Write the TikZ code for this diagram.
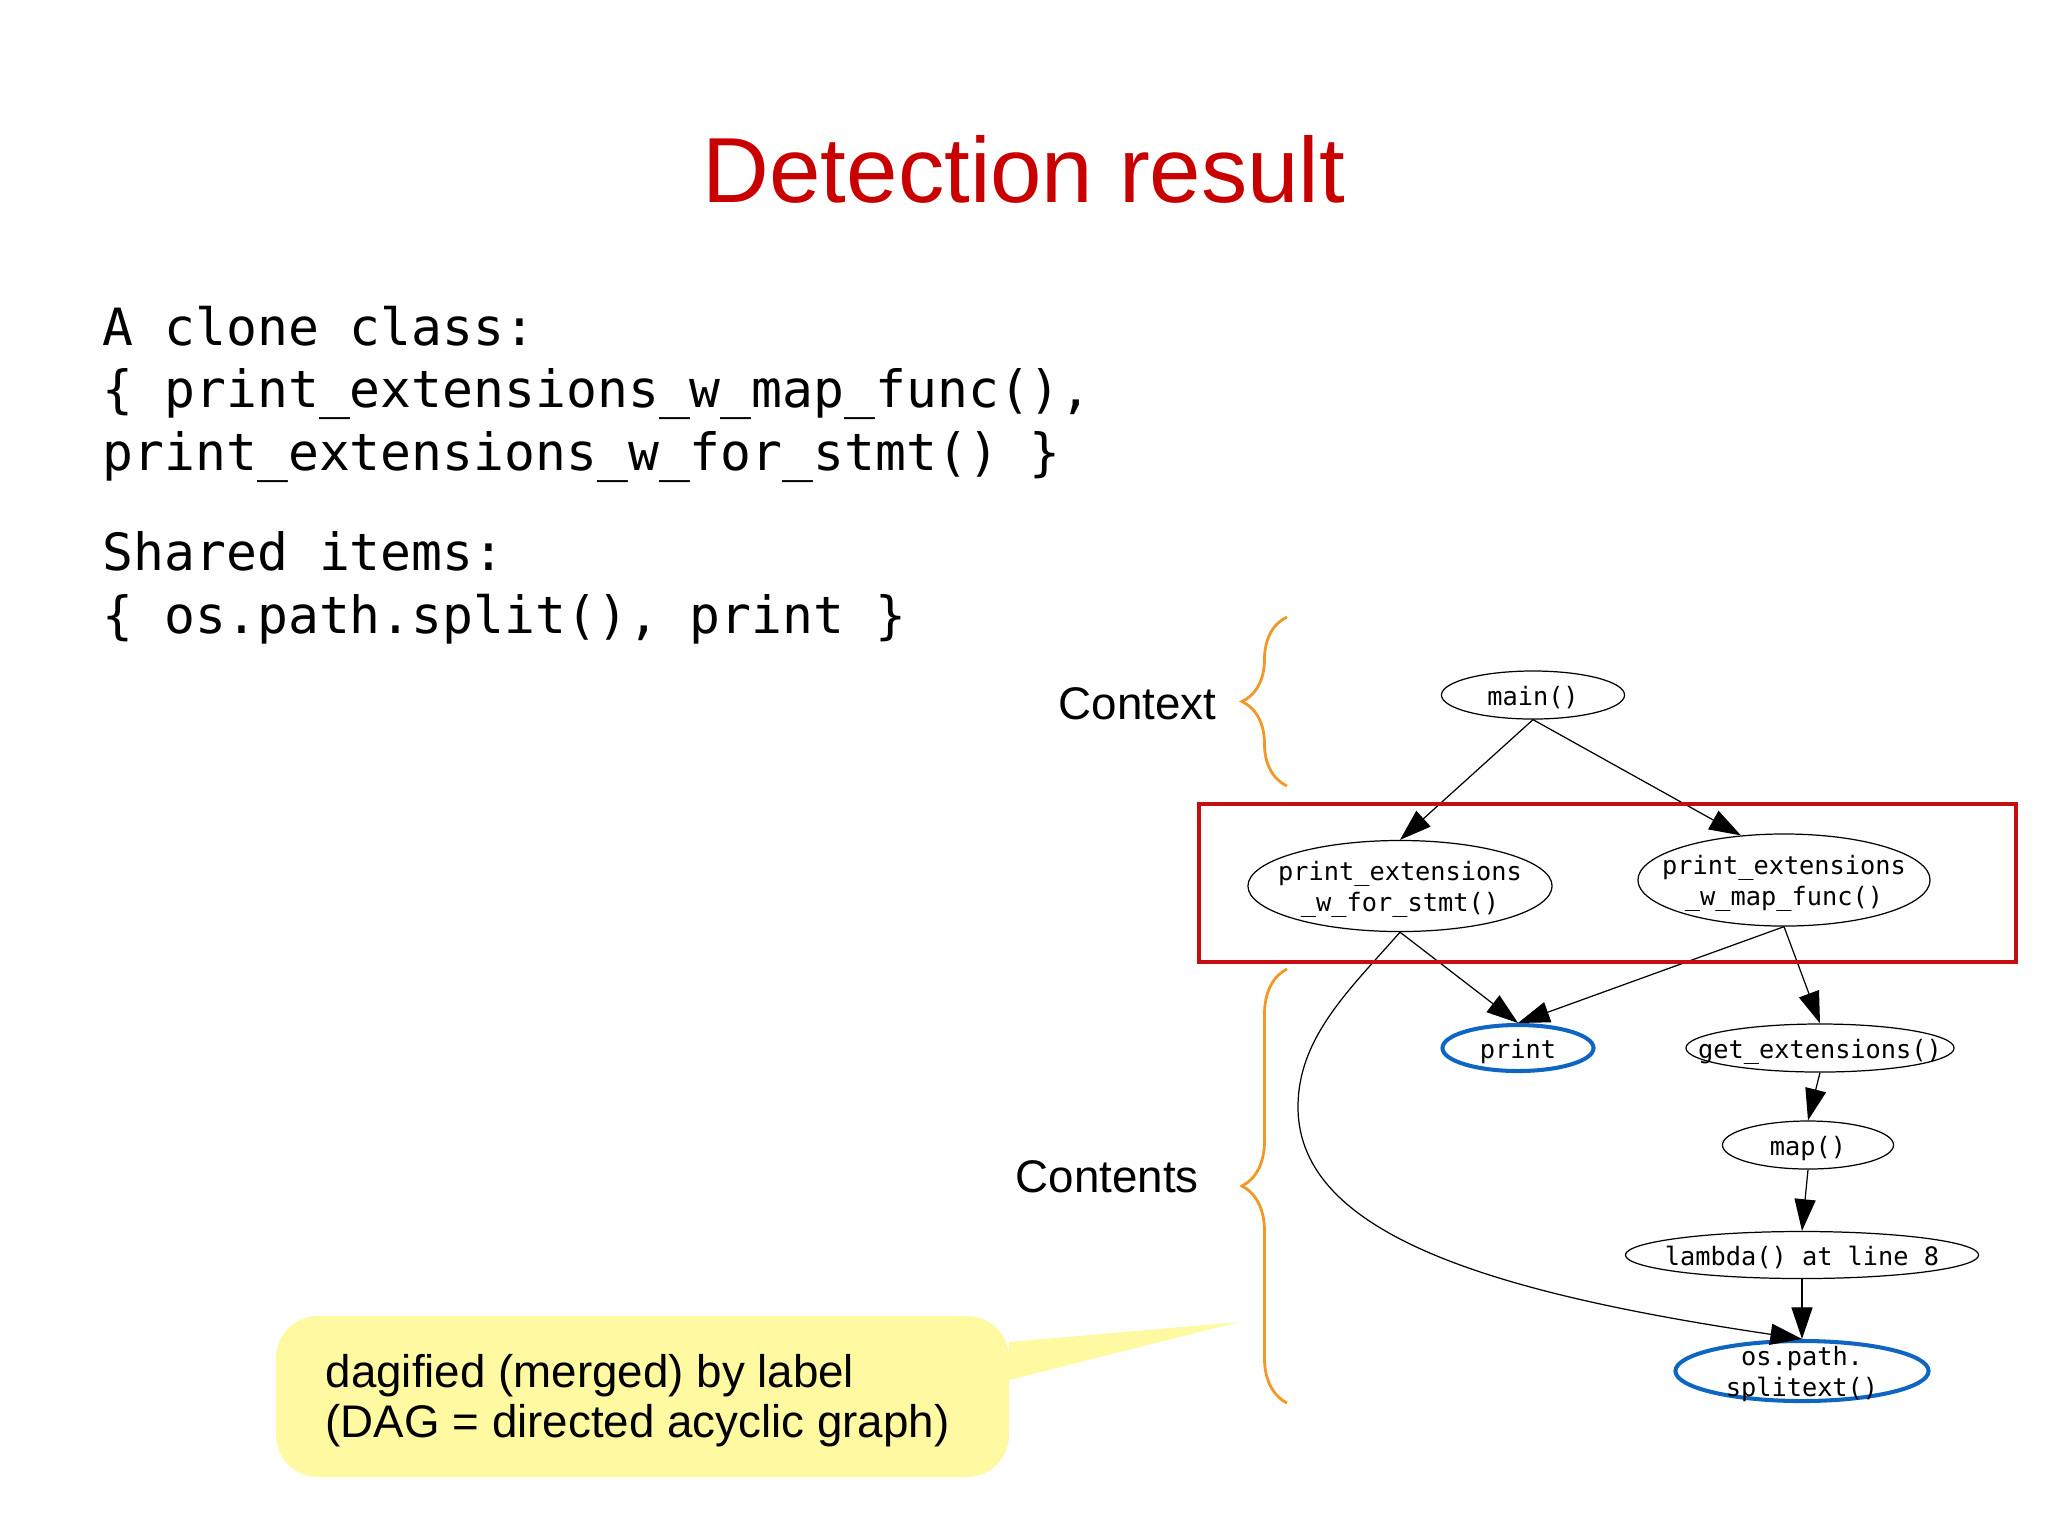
\documentclass[tikz,border=0pt]{standalone}
\usepackage{fontspec}
\setmainfont{Liberation Sans}
\newfontfamily\codefont{DejaVu Sans Mono}
\usetikzlibrary{arrows.meta}
\usetikzlibrary{shapes.geometric}
\usetikzlibrary{decorations.pathreplacing}

\definecolor{titlered}{RGB}{201,0,0}
\definecolor{boxred}{RGB}{198,14,14}
\definecolor{hitblue}{RGB}{14,102,192}
\definecolor{braceorange}{RGB}{242,152,38}
\definecolor{noteyellow}{RGB}{255,250,162}

% label of a graph node: centred, takes no room, may stick out of the ellipse
\newcommand{\fnlabel}[1]{\raisebox{-0.4em}[0pt][0pt]{\makebox[0pt]{\begin{tabular}{@{}c@{}}#1\end{tabular}}}}

\tikzset{
    headline/.style={anchor=base, inner sep=0pt, text=titlered, font=\fontsize{26.3}{31}\selectfont},
    codeline/.style={anchor=base west, inner sep=0pt, font=\codefont\fontsize{14.6}{17.5}\selectfont},
    sideline/.style={anchor=base west, inner sep=0pt, font=\fontsize{13}{15.6}\selectfont},
    fn/.style={draw, ellipse, inner sep=0pt, line width=0.35pt, font=\codefont\fontsize{7.2}{8.6}\selectfont},
    hit/.style={fn, draw=hitblue, line width=1.15pt},
    edge/.style={-{Triangle[length=9pt,width=6pt]}, line width=0.35pt},
    curly/.style={draw=braceorange, line width=0.8pt, decorate, decoration={brace, amplitude=0.45cm}},
}

\begin{document}
\begin{tikzpicture}[x=0.01cm, y=-0.01cm]
    \useasboundingbox (0,0) rectangle (2048,1535);

    \node[headline] (head) at (1024,202) {Detection result};

    \node[codeline] (cls1) at (102,345) {A clone class:};
    \node[codeline] (cls2) at (102,407) {\{ print\_extensions\_w\_map\_func(),};
    \node[codeline] (cls3) at (102,470) {print\_extensions\_w\_for\_stmt() \}};
    \node[codeline] (shr1) at (102,570) {Shared items:};
    \node[codeline] (shr2) at (102,633) {\{ os.path.split(), print \}};

    % call graph
    \node[fn, minimum width=1.83cm, minimum height=0.48cm] (main) at (1533,695) {\fnlabel{main()}};
    \node[fn, minimum width=3.04cm, minimum height=0.91cm] (forstmt) at (1400,886) {\fnlabel{print\_extensions\\\_w\_for\_stmt()}};
    \node[fn, minimum width=2.92cm, minimum height=0.92cm] (mapfunc) at (1784,880) {\fnlabel{print\_extensions\\\_w\_map\_func()}};
    \node[hit, minimum width=1.51cm, minimum height=0.46cm] (print) at (1518,1048) {\fnlabel{print}};
    \node[fn, minimum width=2.68cm, minimum height=0.48cm] (getext) at (1820,1048) {\fnlabel{get\_extensions()}};
    \node[fn, minimum width=1.71cm, minimum height=0.48cm] (map) at (1808,1145) {\fnlabel{map()}};
    \node[fn, minimum width=3.53cm, minimum height=0.47cm] (lambda) at (1802,1255) {\fnlabel{lambda() at line 8}};
    \node[hit, minimum width=2.53cm, minimum height=0.60cm] (ospath) at (1802,1371) {\fnlabel{os.path.\\splitext()}};
    \coordinate (swing) at (1298,1107);

    \draw[edge] (main.south) -- (forstmt.north);
    \draw[edge] (main.south) -- (mapfunc.134);
    \draw[edge] (forstmt.south) -- (print.north);
    \draw[edge] (mapfunc.south) -- (print.north);
    \draw[edge] (mapfunc.south) -- (getext.north);
    \draw[edge] (getext.south) -- (map.north);
    \draw[edge] (map.south) -- (lambda.north);
    \draw[edge] (lambda.south) -- (ospath.north);
    \draw[edge] (forstmt.south) .. controls +(-50,57) and (1298,1037) .. (swing)
        .. controls (1298,1237) and (1500,1294) .. (ospath.north);

    % clone class box
    \draw[boxred, line width=1.15pt] (1199,804) rectangle (2016,962);

    % braces
    \draw[curly] (1287,786) -- (1287,617);
    \draw[curly] (1287,1403) -- (1287,969);
    \node[sideline] (ctx) at (1058,719) {Context};
    \node[sideline] (cnt) at (1015,1192) {Contents};

    % callout
    \fill[noteyellow] (1239,1322) -- (1009,1342) [rounded corners=0.42cm] -- (1009,1316) -- (276,1316)
        -- (276,1477) -- (1009,1477) [sharp corners] -- (1009,1380) -- cycle;
    \node[sideline] (note1) at (325,1387) {dagified (merged) by label};
    \node[sideline] (note2) at (325,1437) {(DAG = directed acyclic graph)};
\end{tikzpicture}
\end{document}
